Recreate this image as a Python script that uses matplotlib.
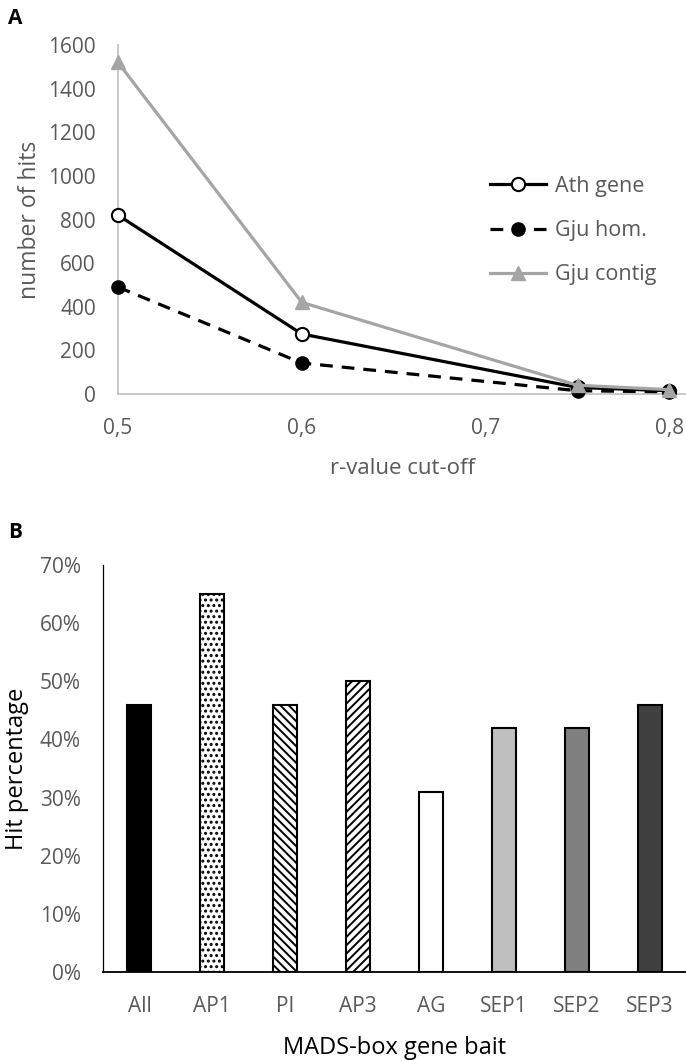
import numpy as np
import matplotlib
matplotlib.use("Agg")
from matplotlib import pyplot as plt

plt.rcParams['font.family'] = ['Open Sans', 'DejaVu Sans']
plt.rcParams['hatch.linewidth'] = 1.4

# panel A data
r_cutoff = [0.5, 0.6, 0.75, 0.8]
ath_gene = [820, 275, 30, 15]
gju_hom = [490, 142, 15, 10]
gju_contig = [1520, 420, 40, 20]

# panel B data
baits = ["All", "AP1", "PI", "AP3", "AG", "SEP1", "SEP2", "SEP3"]
hit_pct = [0.46, 0.65, 0.46, 0.50, 0.31, 0.42, 0.42, 0.46]
bar_colors = ["black", "white", "white", "white", "white", "#bfbfbf", "#7f7f7f", "#404040"]
bar_hatches = [None, "...", "\\\\\\\\", "////", None, None, None, None]

grey_txt = "#595959"
W, H = 686, 1061
fig = plt.figure(figsize=(W / 100, H / 100), dpi=100)

def box(l, t, r, b):
    return [l / W, 1 - b / H, (r - l) / W, (b - t) / H]

# ---- A
ax1 = fig.add_axes(box(118, 45, 686, 394))
ax1.plot(r_cutoff, ath_gene, color="black", lw=2.3, marker="o", ms=9.5,
         mfc="white", mec="black", mew=1.5, label="Ath gene", zorder=3)
ax1.plot(r_cutoff, gju_hom, color="black", lw=2.3, ls=(0, (4, 2.8)), marker="o",
         ms=9.5, mfc="black", mec="black", label="Gju hom.", zorder=3)
ax1.plot(r_cutoff, gju_contig, color="#a5a5a5", lw=2.3, marker="^", ms=10,
         mfc="#a5a5a5", mec="#a5a5a5", label="Gju contig", zorder=4)
ax1.set_xlim(0.5, 0.809)
ax1.set_ylim(0, 1600)
ax1.set_xticks([0.5, 0.6, 0.7, 0.8])
ax1.set_xticklabels(["0,5", "0,6", "0,7", "0,8"])
ax1.set_yticks(np.arange(0, 1601, 200))
for s in ["top", "right"]:
    ax1.spines[s].set_visible(False)
for s in ["left", "bottom"]:
    ax1.spines[s].set_color("#bfbfbf")
    ax1.spines[s].set_linewidth(1.2)
ax1.tick_params(length=0, labelsize=15, labelcolor=grey_txt)
ax1.tick_params(axis="y", pad=16)
ax1.tick_params(axis="x", pad=17)
ax1.set_xlabel("r-value cut-off", fontsize=16, color=grey_txt, labelpad=14)
ax1.set_ylabel("number of hits", fontsize=16.5, color=grey_txt, labelpad=4)
for ln in ax1.lines:
    ln.set_clip_on(False)
leg = ax1.legend(loc="upper left", bbox_to_anchor=(0.655, 0.625), frameon=False,
                 fontsize=15.5, handlelength=2.6, labelspacing=1.08, handletextpad=0.4,
                 borderaxespad=0, borderpad=0)
for t in leg.get_texts():
    t.set_color(grey_txt)
fig.text(8 / W, 1 - 18 / H, "A", fontsize=15, fontweight="bold", va="center")

# ---- B
ax2 = fig.add_axes(box(103, 565, 686, 972))
x = np.arange(len(baits))
for i in range(len(baits)):
    ax2.bar(x[i], hit_pct[i], width=0.33, color=bar_colors[i], edgecolor="black",
            linewidth=1.5, hatch=bar_hatches[i])
ax2.set_xlim(-0.5, 7.5)
ax2.set_ylim(0, 0.7)
ax2.set_xticks(x)
ax2.set_xticklabels(baits)
ax2.set_yticks(np.arange(0, 0.71, 0.1))
ax2.set_yticklabels([f"{int(round(v * 100))}%" for v in np.arange(0, 0.71, 0.1)])
for s in ["top", "right"]:
    ax2.spines[s].set_visible(False)
ax2.spines["left"].set_linewidth(0.9)
ax2.spines["bottom"].set_linewidth(1.3)
ax2.tick_params(length=0, labelsize=15, labelcolor=grey_txt)
ax2.tick_params(axis="y", pad=16)
ax2.tick_params(axis="x", pad=17)
ax2.set_xlabel("MADS-box gene bait", fontsize=17, color="black", labelpad=14)
ax2.set_ylabel("Hit percentage", fontsize=17, color="black", labelpad=8)
fig.text(8 / W, 1 - 532 / H, "B", fontsize=15, fontweight="bold", va="center")

fig.savefig("out.png", dpi=100)
